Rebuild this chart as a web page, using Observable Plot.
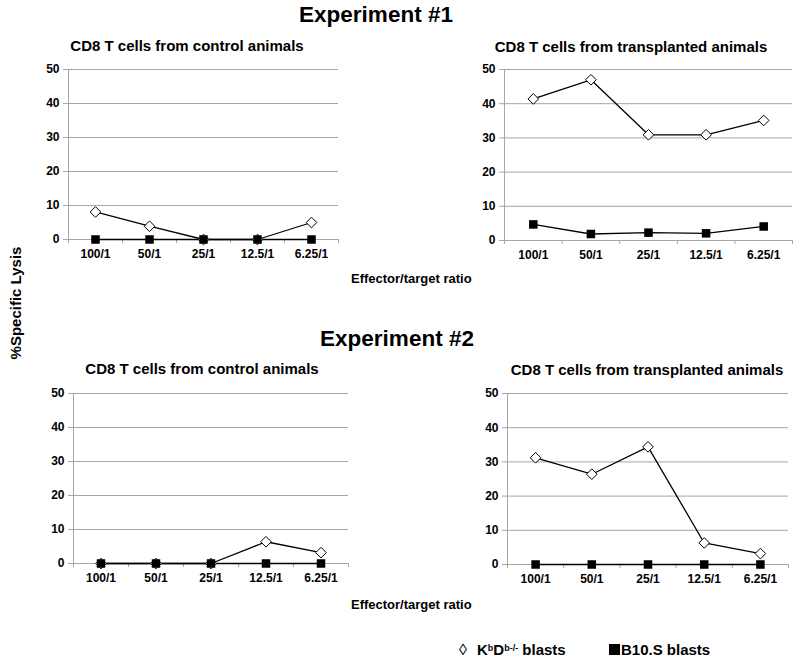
<!DOCTYPE html>
<html>
<head>
<meta charset="utf-8">
<script src="https://cdn.jsdelivr.net/npm/d3@7"></script>
<script src="https://cdn.jsdelivr.net/npm/@observablehq/plot@0.6"></script>
<style>
  html, body { margin: 0; padding: 0; background: #fff; }
  #root { position: relative; width: 800px; height: 663px; overflow: hidden; background: #fff;
          font-family: "Liberation Sans", Arial, sans-serif; font-weight: bold; color: #000; }
  .t { position: absolute; white-space: nowrap; line-height: 1; }
  .c { transform: translateX(-50%); }
  .panel { position: absolute; }
</style>
</head>
<body>
<div id="root"></div>
<script>
// ---- data ----
const ratios = ["100/1", "50/1", "25/1", "12.5/1", "6.25/1"];
const yTicks = [0, 10, 20, 30, 40, 50];

const exp1ControlKbD = [8.1, 3.9, 0, 0, 5.0];
const exp1ControlB10 = [0, 0, 0, 0, 0];
const exp1TransKbD   = [41.4, 47.0, 30.9, 30.9, 35.1];
const exp1TransB10   = [4.7, 1.9, 2.3, 2.1, 4.1];
const exp2ControlKbD = [0, 0, 0, 6.4, 3.2];
const exp2ControlB10 = [0, 0, 0, 0, 0];
const exp2TransKbD   = [31.2, 26.4, 34.4, 6.3, 3.2];
const exp2TransB10   = [0, 0, 0, 0, 0];

const root = document.getElementById("root");
const GRID = "#a6a6a6";

function rows(values) {
  return values.map((v, i) => ({pos: i + 0.5, ratio: ratios[i], v}));
}

function panel(kbd, b10, L) {
  const innerW = L.w, innerH = L.h;
  const chart = Plot.plot({
    width: L.ml + innerW + L.mr,
    height: L.mt + innerH + L.mb,
    marginLeft: L.ml, marginRight: L.mr, marginTop: L.mt, marginBottom: L.mb,
    x: {type: "linear", domain: [0, ratios.length], label: null},
    y: {domain: [0, 50], label: null},
    style: {fontFamily: "'Liberation Sans', Arial, sans-serif", fontSize: "12px", fontWeight: "bold",
            color: "black", background: "none", overflow: "visible"},
    marks: [
      Plot.gridY(yTicks, {stroke: GRID, strokeOpacity: 1, strokeWidth: 1}),
      Plot.ruleX([0], {stroke: GRID, strokeWidth: 1}),
      Plot.axisY(yTicks, {tickSize: 5, tickPadding: 4, stroke: GRID, fill: "black", label: null}),
      Plot.axisX(d3.range(ratios.length + 1), {tickSize: 4, tickFormat: () => "", stroke: GRID, label: null}),
      Plot.axisX(ratios.map((r, i) => i + 0.5), {tickSize: 0, tickPadding: 10,
        tickFormat: v => ratios[Math.floor(v)], fill: "black", label: null}),
      Plot.line(rows(kbd), {x: "pos", y: "v", stroke: "black", strokeWidth: 1.3}),
      Plot.line(rows(b10), {x: "pos", y: "v", stroke: "black", strokeWidth: 1.3}),
      Plot.dot(rows(kbd), {x: "pos", y: "v", symbol: "diamond2", r: 4.8, fill: "white", stroke: "black", strokeWidth: 1}),
      Plot.dot(rows(b10), {x: "pos", y: "v", symbol: "square", r: 4.8, fill: "black"})
    ]
  });
  const wrap = document.createElement("div");
  wrap.className = "panel";
  wrap.style.left = L.left + "px";
  wrap.style.top = L.top + "px";
  wrap.appendChild(chart);
  root.appendChild(wrap);
}

panel(exp1ControlKbD, exp1ControlB10, {left: 0,   top: 60,  ml: 68, mr: 7,  mt: 9, mb: 28, w: 270, h: 170});
panel(exp1TransKbD,   exp1TransB10,   {left: 440, top: 60,  ml: 64, mr: 8,  mt: 9, mb: 28, w: 288, h: 171});
panel(exp2ControlKbD, exp2ControlB10, {left: 0,   top: 384, ml: 73, mr: 7,  mt: 9, mb: 28, w: 275, h: 170});
panel(exp2TransKbD,   exp2TransB10,   {left: 440, top: 384, ml: 67, mr: 10, mt: 9, mb: 28, w: 281, h: 171});

function text(html, style, cls) {
  const d = document.createElement("div");
  d.className = "t" + (cls ? " " + cls : "");
  d.innerHTML = html;
  Object.assign(d.style, style);
  root.appendChild(d);
  return d;
}

text("Experiment #1", {left: "376px", top: "4px", fontSize: "22.5px"}, "c");
text("Experiment #2", {left: "397px", top: "328px", fontSize: "22.5px"}, "c");

text("CD8 T cells from control animals", {left: "187px", top: "38px", fontSize: "15px"}, "c");
text("CD8 T cells from transplanted animals", {left: "631px", top: "39px", fontSize: "15px"}, "c");
text("CD8 T cells from control animals", {left: "202px", top: "361px", fontSize: "15px"}, "c");
text("CD8 T cells from transplanted animals", {left: "647px", top: "362px", fontSize: "15px"}, "c");

text("Effector/target ratio", {left: "351px", top: "272px", fontSize: "13px"});
text("Effector/target ratio", {left: "351px", top: "598px", fontSize: "13px"});

text("%Specific Lysis", {left: "15px", top: "303px", fontSize: "15px",
  transform: "translate(-50%, -50%) rotate(-90deg)"});

// legend
text("&#x25CA;", {left: "459px", top: "642px", fontSize: "16px", fontWeight: "normal"});
text('K<span style="font-size:9px;position:relative;top:-4px">b</span>D<span style="font-size:9px;position:relative;top:-4px">b-/-</span> blasts',
  {left: "477px", top: "642px", fontSize: "15px"});
text('<span style="display:inline-block;width:11px;height:11px;background:#000;margin-right:1px"></span>B10.S blasts',
  {left: "609px", top: "642px", fontSize: "15px"});
</script>
</body>
</html>
